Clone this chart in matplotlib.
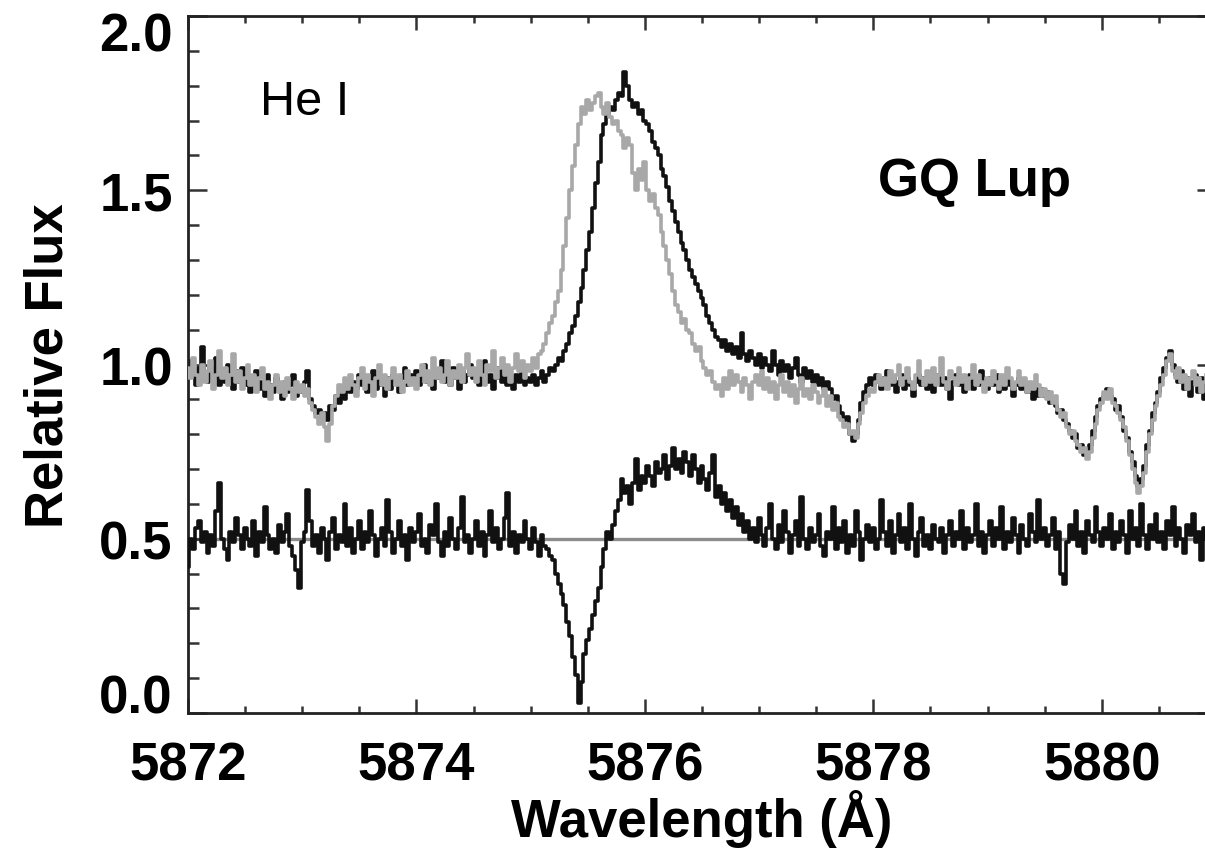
import numpy as np
import matplotlib
matplotlib.use("Agg")
import matplotlib.pyplot as plt
from matplotlib.ticker import MultipleLocator

plt.rcParams['font.family'] = ['Liberation Sans', 'DejaVu Sans']

# wavelength grid of the spectra (0.025 A sampling)
wave_start = 5872.0
wave_end = 5881.0
n_pix = 361

# gray spectrum (first epoch), one row = 0.5 A
flux_gray = [
    0.99, 0.96, 1.02, 0.97, 0.94, 1.00, 0.95, 0.98, 1.01, 0.93, 0.97, 1.04, 0.96, 0.99, 0.94, 0.97, 1.03, 0.95, 0.98, 0.93,
    0.96, 1.00, 0.94, 0.97, 0.92, 0.96, 0.99, 0.93, 0.95, 0.90, 0.94, 0.97, 0.92, 0.95, 0.91, 0.96, 0.93, 0.90, 0.95, 0.92,
    0.94, 0.91, 0.93, 0.89, 0.87, 0.85, 0.83, 0.86, 0.82, 0.78, 0.83, 0.88, 0.91, 0.94, 0.92, 0.96, 0.93, 0.97, 0.94, 0.91,
    0.96, 0.99, 0.93, 0.97, 0.95, 0.91, 0.96, 1.00, 0.94, 0.97, 0.93, 0.96, 0.99, 0.94, 0.97, 0.92, 0.95, 0.98, 0.94, 0.96,
    0.93, 0.97, 1.00, 0.95, 0.98, 0.94, 1.02, 0.96, 0.99, 0.95, 0.97, 1.01, 0.94, 0.98, 0.96, 1.00, 0.95, 0.99, 1.03, 0.97,
    0.99, 0.95, 1.01, 0.97, 0.94, 1.00, 0.98, 1.04, 0.96, 0.99, 1.02, 0.97, 1.00, 0.95, 0.99, 1.03, 0.98, 1.01, 0.96, 1.00,
    0.98, 1.02, 0.99, 1.03, 1.04, 1.06, 1.09, 1.12, 1.14, 1.18, 1.21, 1.27, 1.34, 1.42, 1.50, 1.57, 1.63, 1.69, 1.74, 1.72,
    1.76, 1.73, 1.75, 1.77, 1.78, 1.74, 1.72, 1.75, 1.71, 1.69, 1.70, 1.67, 1.66, 1.62, 1.65, 1.63, 1.55, 1.50, 1.56, 1.53,
    1.58, 1.50, 1.47, 1.49, 1.45, 1.43, 1.38, 1.34, 1.30, 1.26, 1.21, 1.17, 1.15, 1.12, 1.13, 1.10, 1.09, 1.06, 1.04, 1.05,
    1.01, 0.99, 0.97, 0.98, 0.95, 0.93, 0.94, 0.91, 0.96, 0.93, 0.98, 0.94, 0.97, 0.95, 0.92, 0.96, 0.94, 0.90, 0.95, 0.97,
    0.94, 0.98, 0.93, 0.96, 0.92, 0.95, 0.90, 0.94, 0.97, 0.92, 0.95, 0.91, 0.94, 0.89, 0.93, 0.96, 0.91, 0.93, 0.90, 0.94,
    0.92, 0.89, 0.91, 0.93, 0.88, 0.91, 0.87, 0.89, 0.85, 0.84, 0.82, 0.83, 0.80, 0.81, 0.79, 0.83, 0.86, 0.89, 0.91, 0.93,
    0.92, 0.95, 0.97, 0.94, 0.96, 0.93, 0.98, 0.95, 0.97, 1.00, 0.94, 0.96, 0.99, 0.95, 0.93, 0.97, 1.01, 0.96, 0.94, 0.98,
    0.95, 0.99, 0.94, 0.97, 1.02, 0.95, 0.93, 0.98, 0.96, 0.94, 0.99, 0.95, 0.97, 0.93, 0.96, 1.00, 0.94, 0.97, 0.95, 0.92,
    0.96, 0.94, 0.98, 0.95, 0.93, 0.97, 0.94, 0.99, 0.96, 0.93, 0.95, 0.98, 0.94, 0.96, 0.92, 0.95, 0.93, 0.97, 0.94, 0.91,
    0.93, 0.90, 0.92, 0.89, 0.91, 0.87, 0.85, 0.86, 0.82, 0.80, 0.81, 0.78, 0.77, 0.75, 0.76, 0.73, 0.75, 0.79, 0.83, 0.87,
    0.89, 0.92, 0.90, 0.93, 0.89, 0.88, 0.86, 0.84, 0.82, 0.78, 0.74, 0.70, 0.66, 0.63, 0.65, 0.69, 0.75, 0.80, 0.84, 0.88,
    0.91, 0.94, 0.97, 1.01, 1.03, 0.98, 0.96, 0.99, 0.95, 0.97, 0.93, 0.96, 0.98, 0.94, 0.96, 0.92, 0.95, 0.97, 0.93, 0.96,
    0.94,
]

# black spectrum (second epoch)
flux_black = [
    0.96, 1.01, 0.97, 0.94, 0.99, 1.05, 0.97, 0.95, 0.99, 0.96, 1.02, 0.94, 0.98, 0.95, 1.00, 0.96, 0.93, 0.98, 0.95, 0.99,
    0.94, 0.97, 0.92, 0.96, 0.98, 0.93, 0.95, 0.91, 0.97, 0.94, 0.92, 0.96, 0.93, 0.90, 0.95, 0.92, 0.94, 0.97, 0.91, 0.93,
    0.92, 0.95, 0.98, 0.90, 0.88, 0.86, 0.87, 0.85, 0.86, 0.84, 0.88, 0.87, 0.91, 0.89, 0.93, 0.90, 0.94, 0.92, 0.95, 0.93,
    0.97, 0.94, 0.96, 0.92, 0.95, 0.98, 0.93, 0.96, 0.94, 0.91, 0.96, 0.93, 0.97, 0.95, 0.92, 0.96, 0.99, 0.94, 0.97, 0.95,
    0.98, 0.94, 0.96, 1.00, 0.95, 0.97, 0.93, 0.98, 0.96, 1.01, 0.95, 0.97, 0.94, 0.99, 0.96, 0.93, 0.98, 0.95, 0.97, 1.00,
    0.96, 0.98, 0.94, 0.97, 1.01, 0.95, 0.97, 0.93, 0.96, 0.99, 0.95, 0.97, 0.94, 0.96, 0.93, 0.97, 0.95, 0.99, 0.94, 0.96,
    0.95, 0.97, 0.94, 0.96, 0.98, 0.95, 0.97, 0.99, 0.98, 1.00, 1.02, 1.01, 1.04, 1.06, 1.09, 1.11, 1.14, 1.18, 1.22, 1.27,
    1.33, 1.38, 1.45, 1.52, 1.58, 1.66, 1.69, 1.72, 1.74, 1.73, 1.76, 1.78, 1.77, 1.84, 1.80, 1.76, 1.74, 1.75, 1.72, 1.73,
    1.70, 1.69, 1.67, 1.64, 1.62, 1.60, 1.56, 1.54, 1.51, 1.47, 1.44, 1.41, 1.38, 1.35, 1.33, 1.30, 1.27, 1.25, 1.23, 1.21,
    1.19, 1.17, 1.14, 1.12, 1.10, 1.08, 1.07, 1.05, 1.07, 1.04, 1.06, 1.03, 1.05, 1.02, 1.09, 1.03, 1.01, 1.04, 1.02, 1.00,
    1.03, 0.99, 1.02, 1.00, 0.98, 1.04, 1.00, 0.97, 1.01, 0.98, 1.00, 0.96, 0.99, 1.02, 0.97, 0.95, 0.99, 0.96, 0.98, 0.95,
    0.97, 0.94, 0.96, 0.93, 0.95, 0.93, 0.90, 0.91, 0.88, 0.86, 0.84, 0.85, 0.80, 0.78, 0.80, 0.84, 0.89, 0.92, 0.94, 0.96,
    0.94, 0.97, 0.95, 0.93, 0.96, 0.98, 0.94, 0.96, 0.92, 0.95, 0.97, 0.93, 0.96, 0.94, 0.91, 0.95, 0.97, 0.94, 0.96, 0.93,
    0.96, 0.92, 0.95, 0.97, 0.94, 0.96, 0.93, 0.90, 0.95, 0.97, 0.94, 0.96, 0.92, 0.95, 0.97, 0.93, 0.96, 0.94, 0.98, 0.95,
    0.93, 0.96, 0.94, 0.97, 0.92, 0.95, 0.93, 0.96, 0.94, 0.91, 0.94, 0.96, 0.93, 0.95, 0.92, 0.94, 0.90, 0.93, 0.91, 0.93,
    0.91, 0.92, 0.89, 0.90, 0.88, 0.86, 0.87, 0.84, 0.83, 0.81, 0.79, 0.80, 0.76, 0.77, 0.74, 0.75, 0.77, 0.81, 0.85, 0.88,
    0.90, 0.91, 0.93, 0.91, 0.90, 0.87, 0.88, 0.85, 0.81, 0.79, 0.75, 0.72, 0.68, 0.65, 0.67, 0.71, 0.77, 0.81, 0.86, 0.89,
    0.92, 0.96, 0.99, 1.02, 1.04, 1.00, 0.97, 0.95, 0.98, 0.93, 0.96, 0.91, 0.95, 0.97, 0.92, 0.96, 0.90, 0.94, 0.97, 0.92,
    0.95,
]

# difference spectrum, offset to 0.5
flux_diff = [
    0.42, 0.50, 0.47, 0.53, 0.55, 0.49, 0.52, 0.46, 0.51, 0.48, 0.58, 0.66, 0.50, 0.47, 0.44, 0.52, 0.49, 0.56, 0.51, 0.47,
    0.53, 0.50, 0.48, 0.55, 0.45, 0.52, 0.49, 0.59, 0.51, 0.47, 0.50, 0.46, 0.54, 0.49, 0.52, 0.57, 0.48, 0.45, 0.41, 0.36,
    0.49, 0.52, 0.64, 0.55, 0.48, 0.51, 0.46, 0.53, 0.50, 0.44, 0.52, 0.56, 0.47, 0.51, 0.49, 0.60, 0.48, 0.53, 0.46, 0.50,
    0.55, 0.47, 0.52, 0.49, 0.58, 0.51, 0.45, 0.50, 0.53, 0.48, 0.61, 0.52, 0.46, 0.50, 0.55, 0.48, 0.51, 0.44, 0.53, 0.49,
    0.52, 0.57, 0.48, 0.50, 0.46, 0.54, 0.51, 0.60, 0.49, 0.45, 0.52, 0.48, 0.56, 0.50, 0.47, 0.53, 0.62, 0.49, 0.51, 0.46,
    0.50, 0.55, 0.48, 0.52, 0.45, 0.51, 0.58, 0.49, 0.53, 0.47, 0.50, 0.56, 0.63, 0.48, 0.52, 0.46, 0.51, 0.49, 0.55, 0.50,
    0.47, 0.53, 0.49, 0.45, 0.51, 0.48, 0.47, 0.45, 0.44, 0.40, 0.37, 0.34, 0.31, 0.26, 0.22, 0.16, 0.11, 0.03, 0.09, 0.17,
    0.21, 0.24, 0.28, 0.32, 0.36, 0.42, 0.47, 0.52, 0.50, 0.54, 0.58, 0.61, 0.67, 0.63, 0.65, 0.60, 0.66, 0.73, 0.64, 0.68,
    0.66, 0.71, 0.68, 0.65, 0.72, 0.69, 0.70, 0.74, 0.67, 0.71, 0.76, 0.70, 0.73, 0.69, 0.75, 0.72, 0.68, 0.74, 0.70, 0.66,
    0.71, 0.67, 0.64, 0.69, 0.74, 0.62, 0.65, 0.60, 0.63, 0.58, 0.61, 0.56, 0.59, 0.54, 0.57, 0.52, 0.55, 0.50, 0.53, 0.49,
    0.56, 0.51, 0.48, 0.53, 0.60, 0.50, 0.47, 0.54, 0.49, 0.58, 0.52, 0.46, 0.51, 0.55, 0.48, 0.62, 0.50, 0.47, 0.53, 0.49,
    0.51, 0.57, 0.48, 0.45, 0.52, 0.50, 0.59, 0.47, 0.53, 0.49, 0.55, 0.46, 0.51, 0.48, 0.58, 0.52, 0.44, 0.50, 0.54, 0.49,
    0.53, 0.47, 0.50, 0.61, 0.52, 0.48, 0.55, 0.46, 0.51, 0.57, 0.49, 0.53, 0.47, 0.60, 0.50, 0.45, 0.52, 0.56, 0.48, 0.51,
    0.47, 0.54, 0.50, 0.49, 0.53, 0.46, 0.51, 0.55, 0.48, 0.52, 0.50, 0.58, 0.47, 0.53, 0.49, 0.51, 0.60, 0.48, 0.52, 0.46,
    0.51, 0.55, 0.48, 0.53, 0.50, 0.59, 0.47, 0.52, 0.49, 0.56, 0.51, 0.46, 0.54, 0.50, 0.48, 0.57, 0.52, 0.49, 0.61, 0.50,
    0.53, 0.48, 0.51, 0.56, 0.47, 0.52, 0.40, 0.37, 0.49, 0.54, 0.50, 0.58, 0.48, 0.52, 0.46, 0.55, 0.51, 0.49, 0.59, 0.52,
    0.48, 0.53, 0.50, 0.57, 0.47, 0.52, 0.49, 0.55, 0.51, 0.46, 0.58, 0.50, 0.53, 0.48, 0.60, 0.51, 0.47, 0.54, 0.50, 0.57,
    0.49, 0.52, 0.47, 0.55, 0.51, 0.59, 0.48, 0.53, 0.50, 0.46, 0.54, 0.51, 0.57, 0.49, 0.52, 0.44, 0.53, 0.50, 0.56, 0.48,
    0.51,
]

diff_zero = 0.5
y_ticks = [0.0, 0.5, 1.0, 1.5, 2.0]
x_ticks = [5872, 5874, 5876, 5878, 5880]

wave = np.linspace(wave_start, wave_end, n_pix)

fig = plt.figure(figsize=(12.05, 8.53), dpi=100)
# right edge of the frame falls just outside the picture
ax = fig.add_axes([0.156, 0.163, 0.8531, 0.817])

ax.axhline(diff_zero, color='#8c8c8c', lw=2.4, zorder=1)
ax.plot(wave, flux_black, color='#111111', lw=2.6, drawstyle='steps-mid', zorder=2)
ax.plot(wave, flux_gray, color='#a8a8a8', lw=2.6, drawstyle='steps-mid', zorder=3)
ax.plot(wave, flux_diff, color='#111111', lw=2.6, drawstyle='steps-mid', zorder=4)

ax.set_xlim(5872.0, 5881.0)
ax.set_ylim(0.0, 2.0)

ax.set_xticks(x_ticks)
ax.set_xticklabels([str(v) for v in x_ticks])
ax.set_yticks(y_ticks)
# top label is drawn separately below, pushed inside the frame
ax.set_yticklabels(['%.1f' % v for v in y_ticks[:-1]] + [''])
ax.xaxis.set_minor_locator(MultipleLocator(0.5))
ax.yaxis.set_minor_locator(MultipleLocator(0.1))

ax.tick_params(which='both', direction='in', top=True, right=True, width=1.8, color='#333333')
ax.tick_params(axis='x', which='major', length=10, pad=20)
ax.tick_params(axis='x', which='minor', length=5)
ax.tick_params(axis='y', which='major', length=14, pad=11)
ax.tick_params(axis='y', which='minor', length=8)
for lab in ax.get_xticklabels() + ax.get_yticklabels():
    lab.set_fontsize(38)
    lab.set_fontweight('bold')

# bottom label sits on the axis, like the original
yticks = ax.yaxis.get_major_ticks()
yticks[0].label1.set_va('baseline')
ax.annotate('%.1f' % y_ticks[-1], xy=(0, y_ticks[-1]), xycoords=('axes fraction', 'data'),
            xytext=(-11, -25), textcoords='offset points', ha='right', va='baseline',
            fontsize=38, fontweight='bold')

for sp in ax.spines.values():
    sp.set_linewidth(2.0)
    sp.set_color('#222222')

ax.set_xlabel('Wavelength (Å)', fontsize=38, fontweight='bold', va='baseline')
ax.xaxis.set_label_coords(0.5, -0.1765)
ax.set_ylabel('Relative Flux', fontsize=38, fontweight='bold', va='baseline')
ax.yaxis.set_label_coords(-0.1216, 0.5)

ax.text(5872.63, 1.719, 'He I', fontsize=35, va='baseline', ha='left')
ax.text(5878.04, 1.487, 'GQ Lup', fontsize=38, fontweight='bold', va='baseline', ha='left')

fig.savefig('out.png', dpi=100)
